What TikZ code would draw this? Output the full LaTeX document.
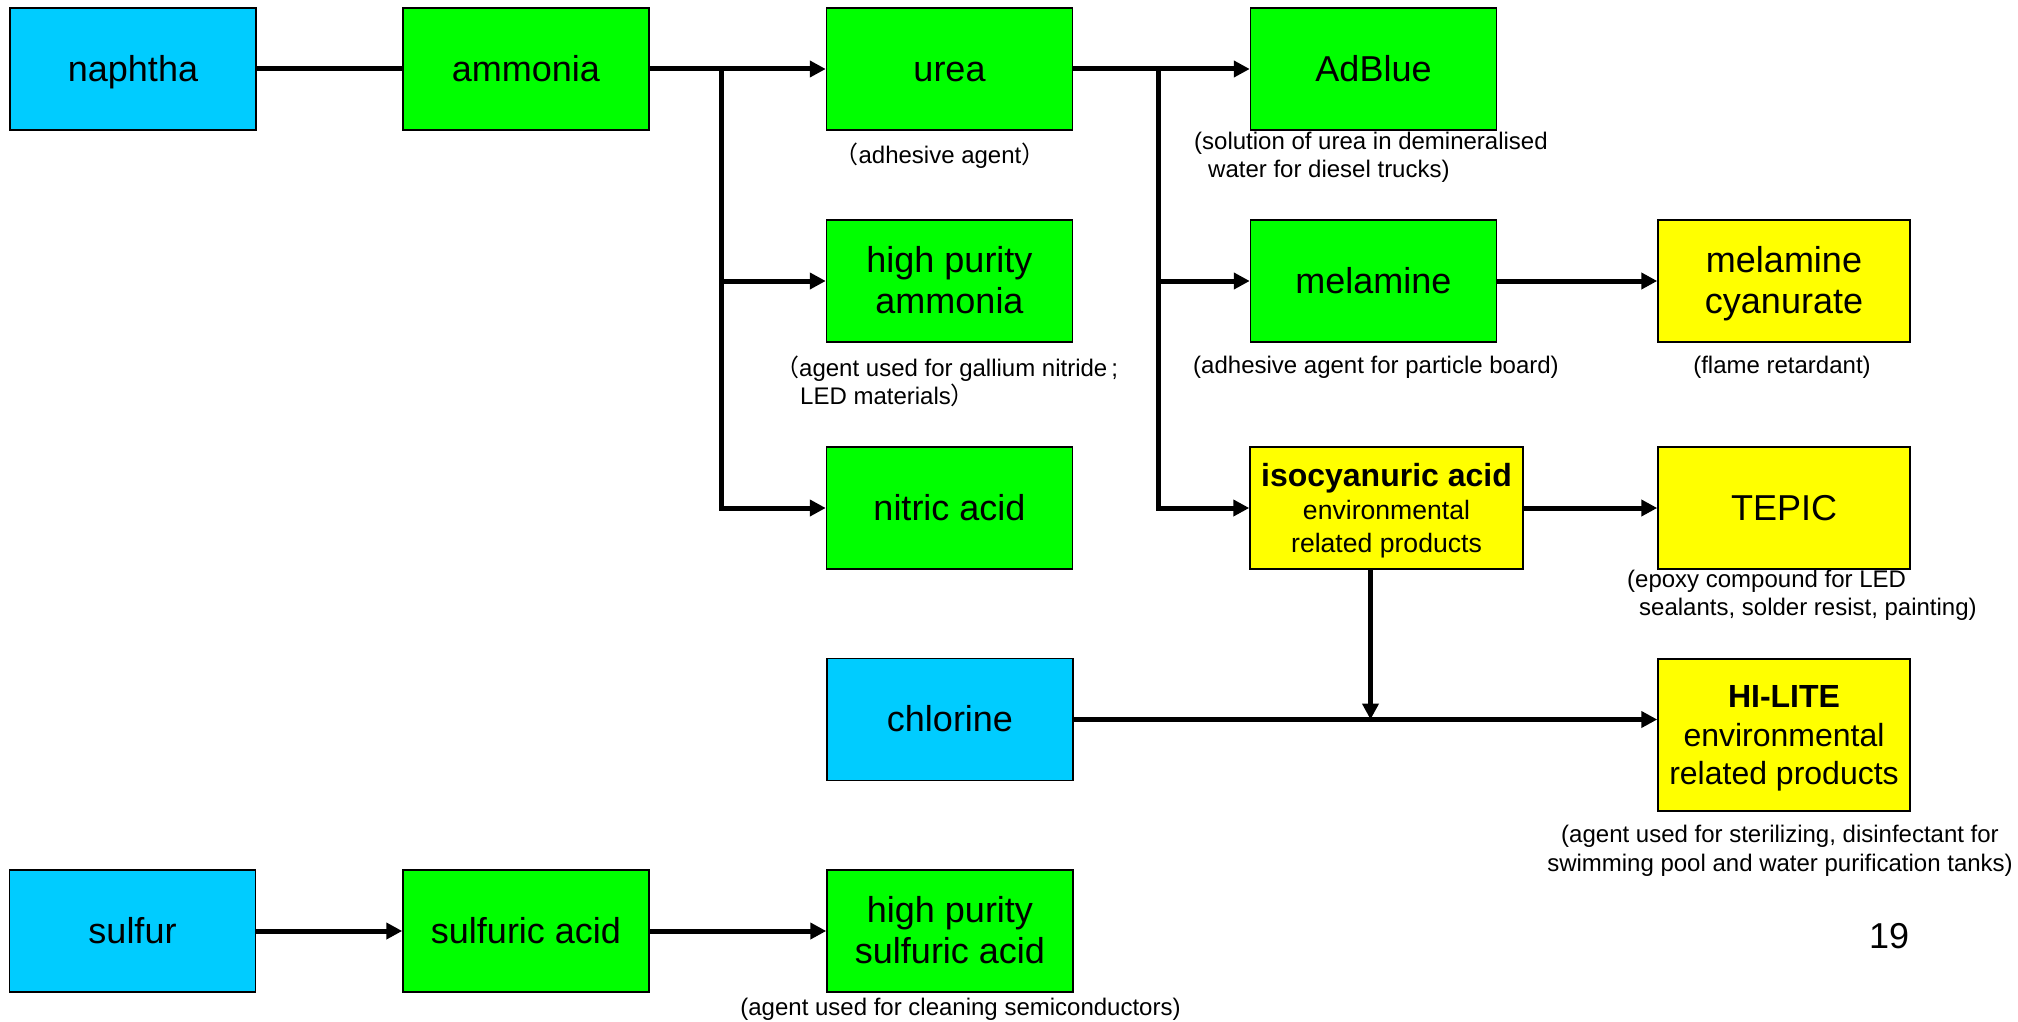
\documentclass[tikz,border=0pt]{standalone}
\usepackage{fontspec}
\setmainfont{Liberation Sans}
\newfontfamily\cjkfont{Noto Sans CJK JP}
\usetikzlibrary{arrows.meta,calc}
\definecolor{cblue}{HTML}{00CCFF}
\definecolor{cgreen}{HTML}{00FF00}
\definecolor{cyellow}{HTML}{FFFF00}
\newcommand{\ps}{\rule[-0.212em]{0pt}{1.117em}}
\begin{document}
\begin{tikzpicture}[x=1pt,y=-1pt,
 box/.style={draw=black, line width=1.5pt, minimum width=246pt, minimum height=122pt, inner sep=0pt, align=center, font=\fontsize{36}{41}\selectfont},
 bluebox/.style={box, fill=cblue},
 greenbox/.style={box, fill=cgreen},
 yellowbox/.style={box, fill=cyellow, minimum width=252pt},
 conn/.style={line width=5pt},
 arr/.style={conn, -{Triangle[length=16pt,width=16pt]}},
 note/.style={font=\fontsize{24}{28.5}\selectfont, inner sep=0pt},
]
\fill[white] (0,0) rectangle (2018,1022);
\useasboundingbox (0,0) rectangle (2018,1022);

% boxes
\node[bluebox]  (naphtha)  at (133,69)    {\ps naphtha};
\node[greenbox] (ammonia)  at (526,69)    {\ps ammonia};
\node[greenbox] (urea)     at (949.5,69)  {\ps urea};
\node[greenbox] (adblue)   at (1373.5,69) {\ps AdBlue};
\node[greenbox] (hpa)      at (949.5,281) {\ps high purity\\\ps ammonia};
\node[greenbox] (melamine) at (1373.5,281) {\ps melamine};
\node[yellowbox] (melcyan) at (1784,281)  {\ps melamine\\\ps cyanurate};
\node[greenbox] (nitric)   at (949.5,508) {\ps nitric acid};
\node[yellowbox, minimum width=273pt, font=\fontsize{26.6}{33}\selectfont] (iso) at (1386.5,508)
  {{\fontsize{32}{33}\selectfont\bfseries\ps isocyanuric acid}\\\ps environmental\\\ps related products};
\node[yellowbox] (tepic)   at (1784,508)  {\ps TEPIC};
\node[bluebox]  (chlorine) at (950,719.5) {\ps chlorine};
\node[yellowbox, minimum height=152pt, font=\fontsize{32}{38.5}\selectfont] (hilite) at (1784,735)
  {\ps\textbf{HI-LITE}\\\ps environmental\\\ps related products};
\node[bluebox]  (sulfur)   at (132.5,931) {\ps sulfur};
\node[greenbox] (sulfuric) at (526,931)   {\ps sulfuric acid};
\node[greenbox] (hpsa)     at (950,931)   {\ps high purity\\\ps sulfuric acid};

% connectors
\coordinate (j1) at (721,69);
\coordinate (j2) at (1158.6,69);
\coordinate (j3) at (1370.5,719.5);
\draw[conn] (naphtha) -- (ammonia);
\draw[arr] (ammonia) -- (urea);
\draw[arr] (j1) |- (hpa);
\draw[arr] (j1) |- (nitric);
\draw[arr] (urea) -- (adblue);
\draw[arr] (j2) |- (melamine);
\draw[arr] (j2) |- (iso);
\draw[arr] (melamine) -- (melcyan);
\draw[arr] (iso) -- (tepic);
\draw[arr] (iso.south -| j3) -- (j3);
\draw[arr] (chlorine) -- (chlorine -| hilite.west);
\draw[arr] (sulfur) -- (sulfuric);
\draw[arr] (sulfuric) -- (hpsa);

% notes
\node[note] (lurea) at (940,156) {{\cjkfont （}adhesive agent{\cjkfont ）}};
\node[note, align=left, anchor=west] (lhpa) at (775,381.5)
  {{\cjkfont （}agent used for gallium nitride\,;\\\hspace*{25pt}LED materials{\cjkfont ）}};
\node[note, align=left, anchor=west] (ladblue) at (1194,157.5)
  {(solution of urea in demineralised\\\hspace*{14pt}water for diesel trucks)};
\node[note] (lmel) at (1376,367) {(adhesive agent for particle board)};
\node[note] (lmc) at (1782,367) {(flame retardant)};
\node[note, align=left, anchor=west] (ltepic) at (1627,595.5)
  {(epoxy compound for LED\\\hspace*{12pt}sealants, solder resist, painting)};
\node[note, align=center] (lhilite) at (1780,850.75)
  {(agent used for sterilizing, disinfectant for\\swimming pool and water purification tanks)};
\node[note] (lhpsa) at (960.5,1009) {(agent used for cleaning semiconductors)};
\node[font=\fontsize{36}{41}\selectfont, inner sep=0pt] (pnum) at (1889,936) {19};
\end{tikzpicture}
\end{document}
